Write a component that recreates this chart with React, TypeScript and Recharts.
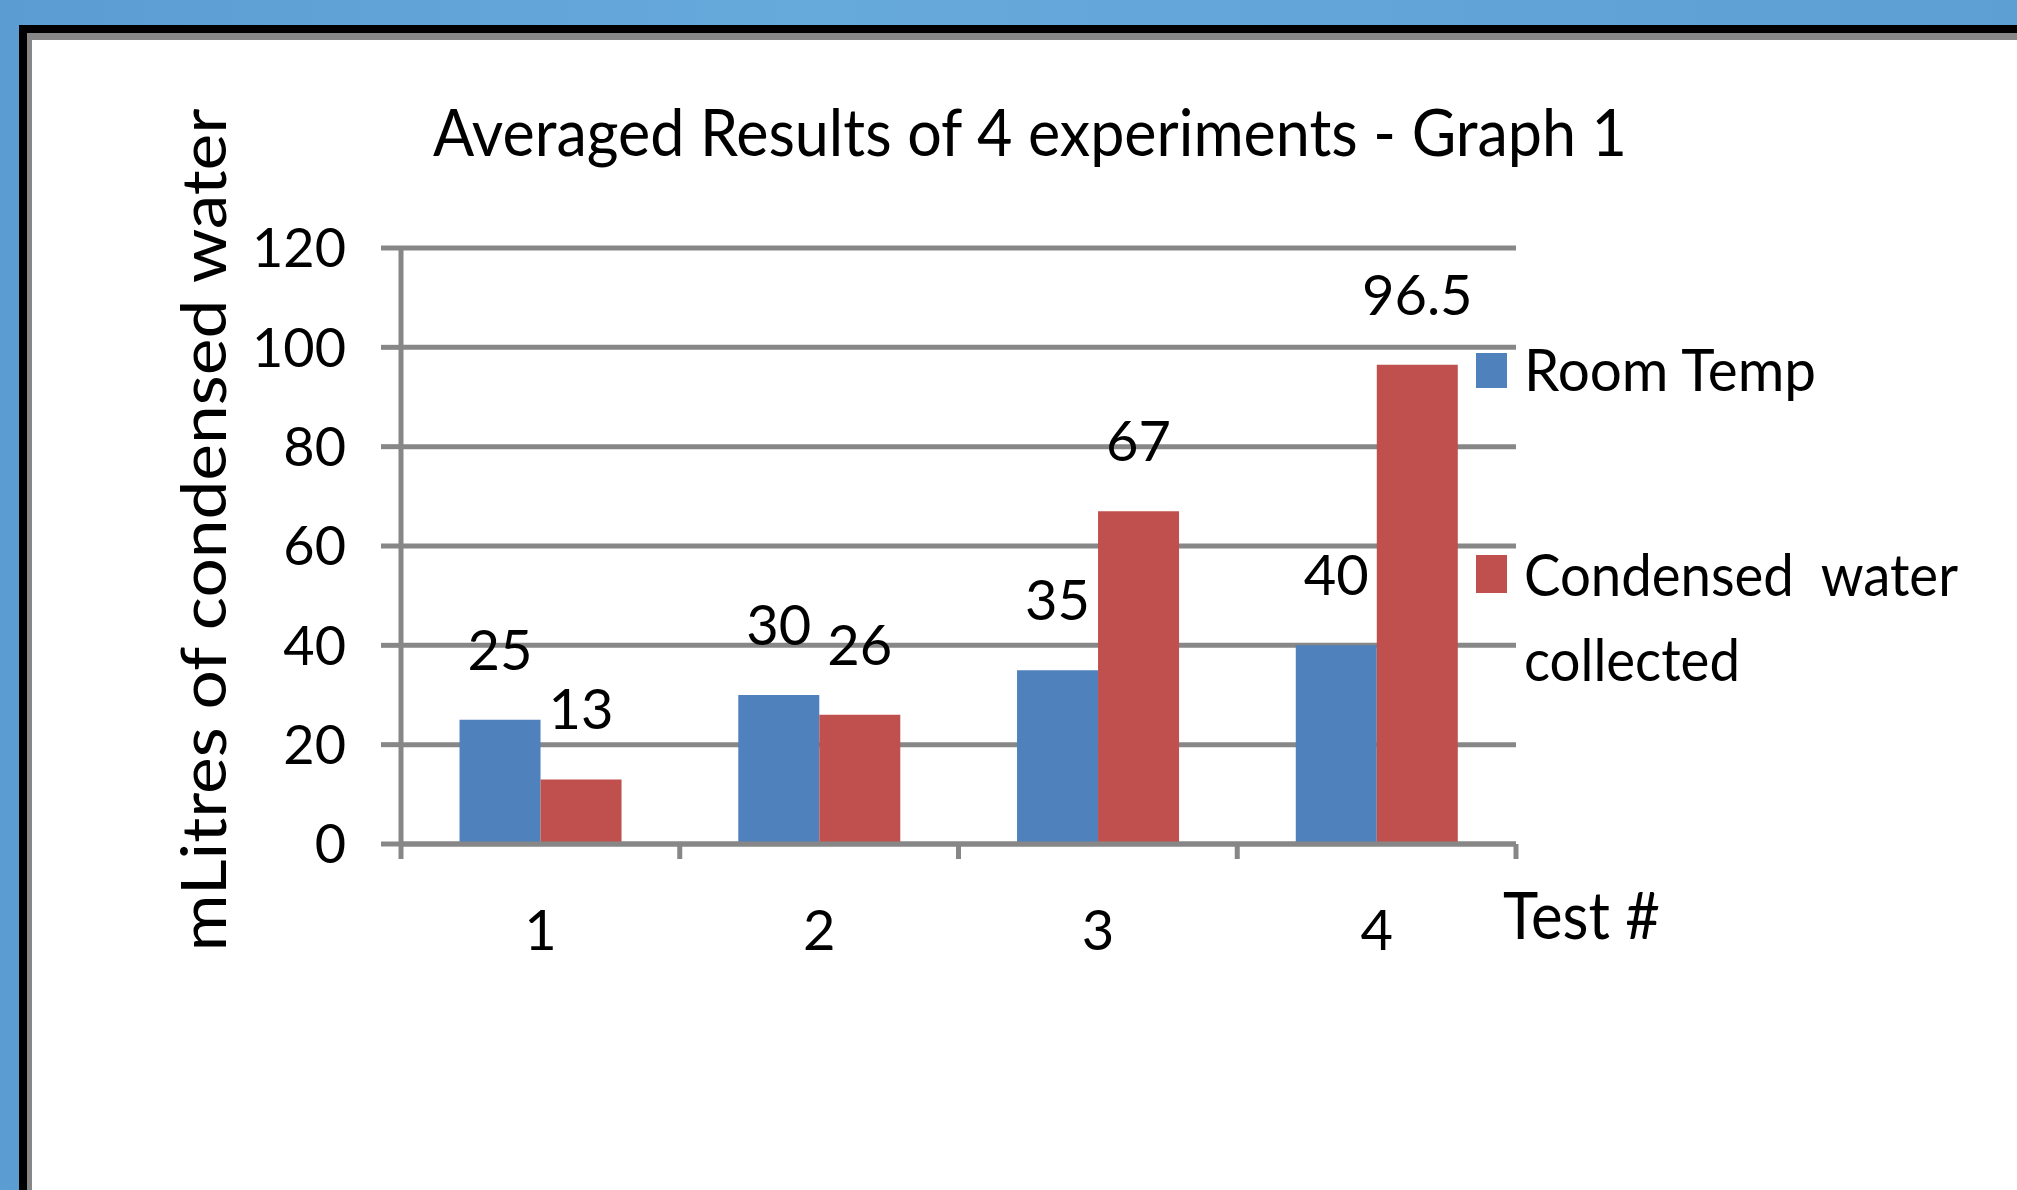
import React from "react";
import {
  Bar,
  BarChart,
  CartesianGrid,
  LabelList,
  Legend,
  XAxis,
  YAxis,
} from "recharts";

const tests = ["1", "2", "3", "4"];
const roomTemp = [25, 30, 35, 40];
const condensedWater = [13, 26, 67, 96.5];
const yTicks = [0, 20, 40, 60, 80, 100, 120];

const seriesNames = ["Room Temp", "Condensed water collected"];
// how the legend wraps each name
const legendLines: Record<string, string[]> = {
  "Room Temp": ["Room Temp"],
  "Condensed water collected": ["Condensed  water", "collected"],
};

const BLUE = "#4F81BD";
const RED = "#C0504D";
const GRID = "#878787";
const FONT = "Lato, 'Open Sans', sans-serif";

const chartData = tests.map((t, i) => ({
  test: t,
  room: roomTemp[i],
  water: condensedWater[i],
}));

// category label plus tick marks at the category edges
const EdgeTick = (props: any) => {
  const { x, y, payload, index } = props;
  const half = payload?.offset ?? 139;
  const last = index === tests.length - 1;
  return (
    <g>
      <line x1={x - half} x2={x - half} y1={y} y2={y + 15} stroke={GRID} strokeWidth={5} />
      {last && (
        <line x1={x + half} x2={x + half} y1={y} y2={y + 15} stroke={GRID} strokeWidth={5} />
      )}
      <text x={x} y={y + 106} textAnchor="middle" fontSize={56} fontFamily={FONT} fill="#000">
        {payload?.value}
      </text>
    </g>
  );
};

// square [x, y, w, h] and text lines [x, baseline, length], inside the legend box
const legendLayout: Record<string, { sq: number[]; lines: number[][] }> = {
  "Room Temp": { sq: [16, 23, 31, 35], lines: [[64, 61, 292]] },
  "Condensed water collected": {
    sq: [16, 225, 31, 38],
    lines: [
      [64, 266, 434],
      [64, 351, 216],
    ],
  },
};

const renderLegend = (props: any) => {
  const payload = props?.payload || [];
  return (
    <svg width={540} height={380} style={{ overflow: "visible" }}>
      {payload.map((entry: any) => {
        const name = String(entry.value);
        const l = legendLayout[name];
        if (!l) return null;
        const lines = legendLines[name] || [name];
        return (
          <g key={name}>
            <rect x={l.sq[0]} y={l.sq[1]} width={l.sq[2]} height={l.sq[3]} fill={entry.color} />
            {lines.map((txt, j) => {
              const pos = l.lines[j] || l.lines[0];
              return (
                <text
                  key={j}
                  x={pos[0]}
                  y={pos[1]}
                  textLength={pos[2]}
                  lengthAdjust="spacingAndGlyphs"
                  fontSize={58}
                  fontFamily={FONT}
                  fill="#000"
                  style={{ whiteSpace: "pre" }}
                >
                  {txt}
                </text>
              );
            })}
          </g>
        );
      })}
    </svg>
  );
};

export default function App() {
  return (
    <div
      style={{
        position: "absolute",
        left: 0,
        top: 0,
        width: 2017,
        height: 1190,
        overflow: "hidden",
        background: "linear-gradient(90deg, #5b9dd2 0%, #66a9db 40%, #5e9fd3 100%)",
      }}
    >
      <div
        style={{
          position: "absolute",
          left: 19,
          top: 25,
          width: 2100,
          height: 1300,
          borderLeft: "8px solid #000",
          borderTop: "8px solid #000",
        }}
      >
        <div
          style={{
            width: "100%",
            height: "100%",
            borderLeft: `5px solid ${GRID}`,
            borderTop: `7px solid ${GRID}`,
            background: "#fff",
          }}
        />
      </div>

      <div style={{ position: "absolute", left: 0, top: 0 }}>
        <BarChart
          width={2017}
          height={1190}
          data={chartData}
          margin={{ top: 248, right: 501, bottom: 226, left: 301 }}
          barCategoryGap="21%"
          barGap={0}
        >
          <CartesianGrid vertical={false} stroke={GRID} strokeWidth={5} />
          <XAxis
            dataKey="test"
            height={120}
            tickLine={false}
            tickSize={0}
            tickMargin={0}
            axisLine={{ stroke: GRID, strokeWidth: 5 }}
            tick={EdgeTick}
            interval={0}
          />
          <YAxis
            width={100}
            domain={[0, 120]}
            ticks={yTicks}
            interval={0}
            axisLine={{ stroke: GRID, strokeWidth: 5 }}
            tickLine={{ stroke: GRID, strokeWidth: 5 }}
            tickSize={20}
            tickMargin={35}
            tick={{ fontSize: 54, fill: "#000", fontFamily: FONT }}
          />
          <Legend
            layout="vertical"
            align="center"
            verticalAlign="middle"
            content={renderLegend}
            wrapperStyle={{ left: 1460, top: 330, width: 540, height: 380 }}
          />
          <Bar dataKey="room" name={seriesNames[0]} fill={BLUE} isAnimationActive={false}>
            <LabelList
              dataKey="room"
              position="top"
              offset={50}
              fontSize={56}
              fill="#000"
              fontFamily={FONT}
            />
          </Bar>
          <Bar dataKey="water" name={seriesNames[1]} fill={RED} isAnimationActive={false}>
            <LabelList
              dataKey="water"
              position="top"
              offset={50}
              fontSize={56}
              fill="#000"
              fontFamily={FONT}
            />
          </Bar>
        </BarChart>
      </div>

      <svg
        width={2017}
        height={1190}
        style={{ position: "absolute", left: 0, top: 0, pointerEvents: "none" }}
      >
        <text
          x={433}
          y={156}
          textLength={1194}
          lengthAdjust="spacingAndGlyphs"
          fontSize={66}
          fontFamily={FONT}
          fill="#000"
        >
          Averaged Results of 4 experiments - Graph 1
        </text>
        <text
          transform="translate(226,530) rotate(-90)"
          textAnchor="middle"
          textLength={843}
          lengthAdjust="spacingAndGlyphs"
          fontSize={62}
          fontFamily={FONT}
          fill="#000"
        >
          mLitres of condensed water
        </text>
        <text
          x={1503}
          y={939}
          textLength={157}
          lengthAdjust="spacingAndGlyphs"
          fontSize={66}
          fontFamily={FONT}
          fill="#000"
        >
          Test #
        </text>
      </svg>
    </div>
  );
}
